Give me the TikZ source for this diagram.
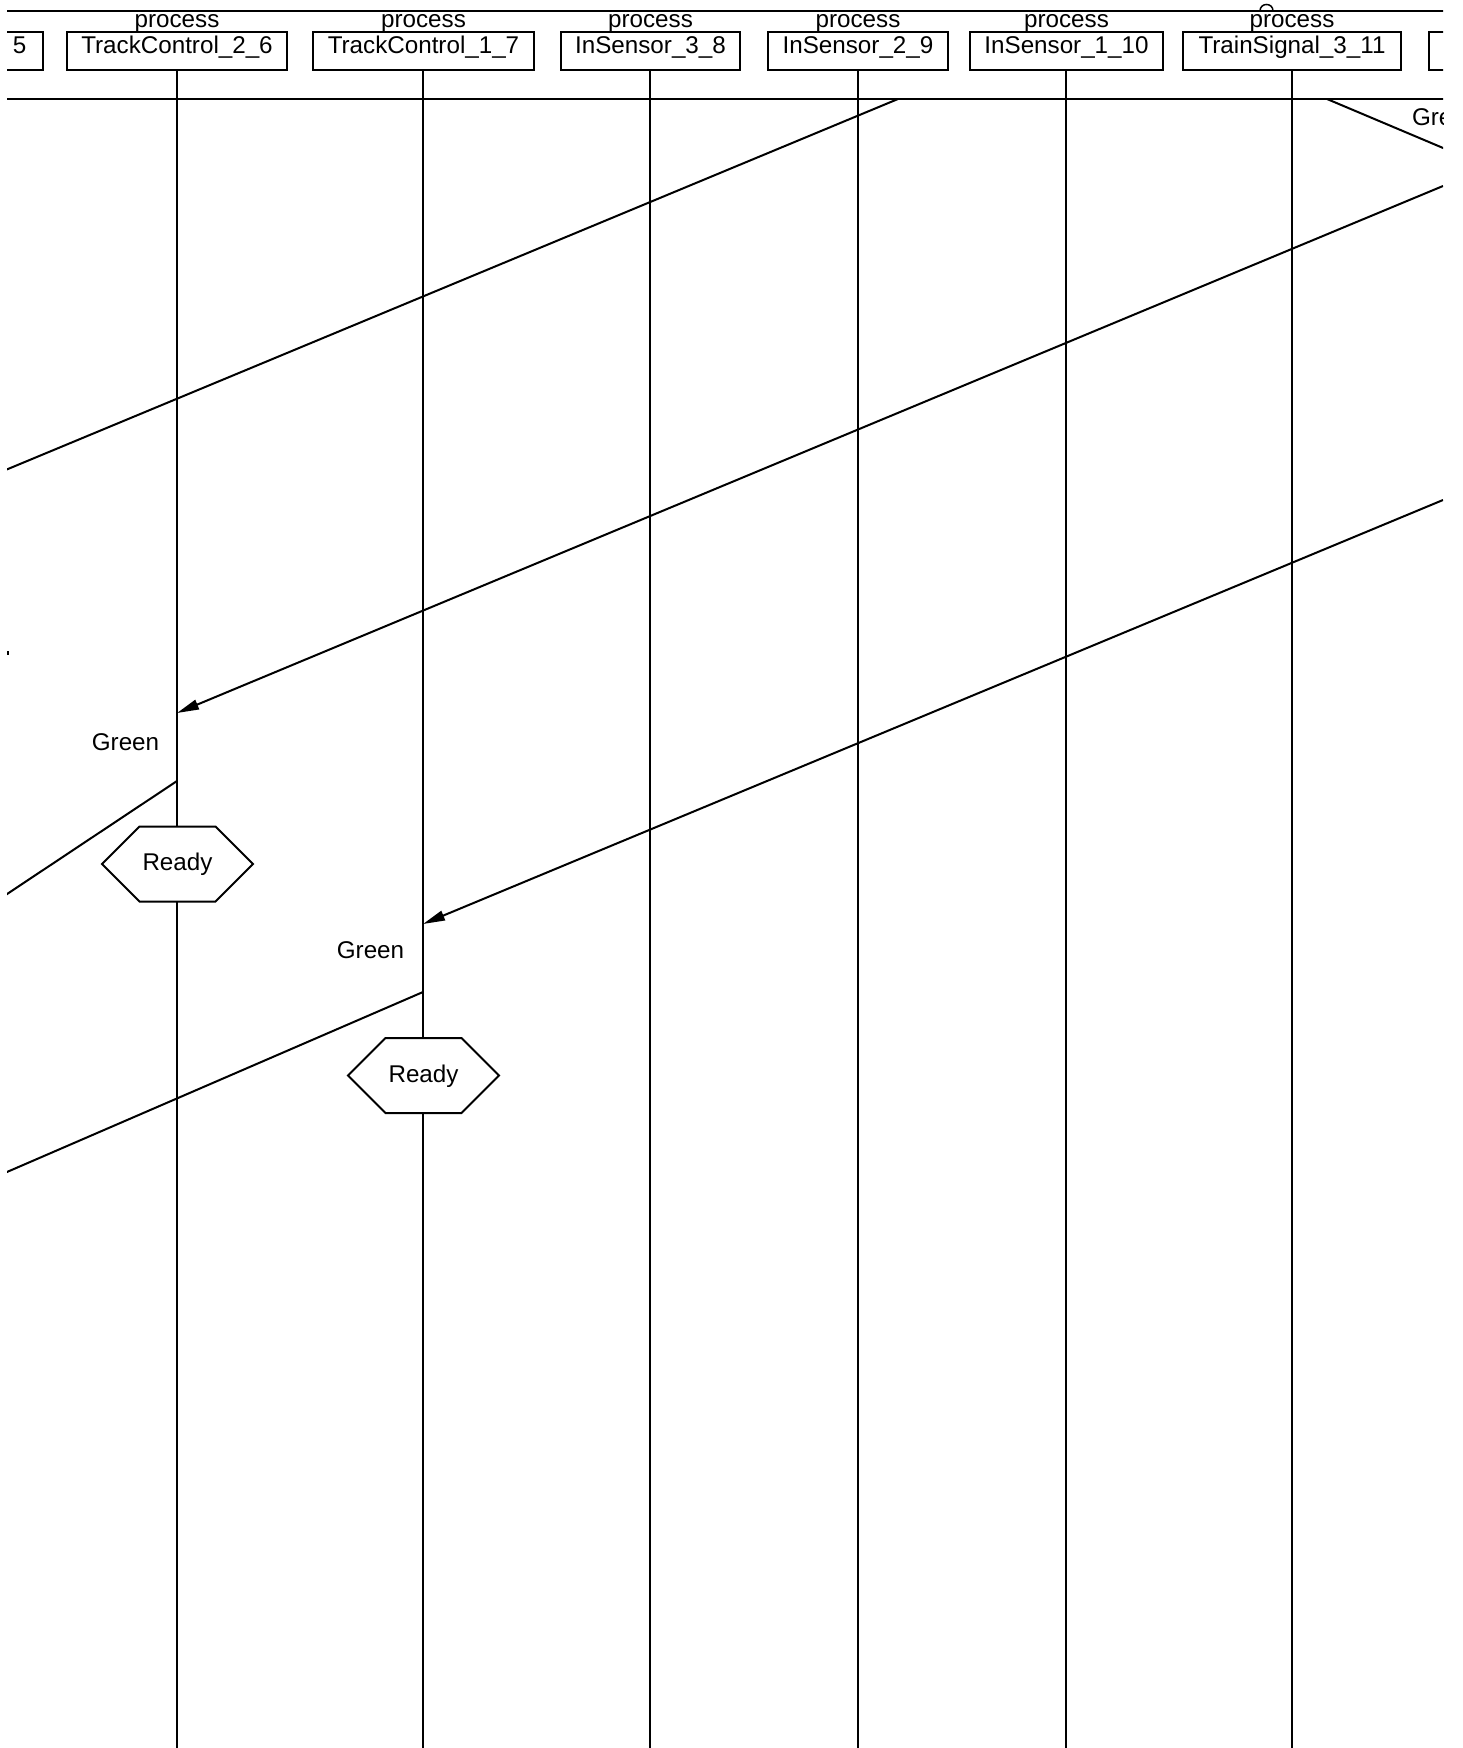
\documentclass[tikz,border=0pt]{standalone}
\usepackage{fontspec}
\setmainfont{Liberation Sans}
\usetikzlibrary{arrows.meta}
\begin{document}
\begin{tikzpicture}[x=1pt,y=-1pt, line width=2pt,
  every node/.style={font=\fontsize{24.2}{29}\selectfont},
  pbox/.style={draw, line width=2pt, inner xsep=0pt, inner ysep=1pt, text height=20pt, text depth=16pt, fill=white},
  plbl/.style={anchor=base, inner sep=0pt},
  msg/.style={line width=2pt},
  arr/.style={msg, -{Triangle[length=22pt,width=10pt]}},
  hexa/.style={draw, line width=2pt, fill=white},
  life/.style={line width=2pt}]

\useasboundingbox (0,0) rectangle (1463,1748);
\clip (7,0) rectangle (1443,1748);

% frame lines
\coordinate (ftl) at (0,10.7);
\coordinate (ftr) at (1463,10.7);
\coordinate (fbl) at (0,99);
\coordinate (fbr) at (1463,99);
\draw (ftl) -- (ftr);
\draw (fbl) -- (fbr);
\draw[line width=1.5pt] (1260,11) .. controls (1260,2.3) and (1273,2.3) .. (1273,11);

% process boxes
\node[pbox, minimum width=47] (p5) at (19.5,51) {5};
\node[pbox, minimum width=220] (tc26) at (177,51) {TrackControl\_2\_6};
\node[pbox, minimum width=221] (tc17) at (423.5,51) {TrackControl\_1\_7};
\node[pbox, minimum width=179] (is38) at (650.5,51) {InSensor\_3\_8};
\node[pbox, minimum width=180] (is29) at (858,51) {InSensor\_2\_9};
\node[pbox, minimum width=193] (is110) at (1066.5,51) {InSensor\_1\_10};
\node[pbox, minimum width=218] (ts311) at (1292,51) {TrainSignal\_3\_11};
\node[pbox, minimum width=102] (pnext) at (1480,51) {};

\node[plbl] (l26) at (177,27) {process};
\node[plbl] (l17) at (423.5,27) {process};
\node[plbl] (l38) at (650.5,27) {process};
\node[plbl] (l29) at (858,27) {process};
\node[plbl] (l110) at (1066.5,27) {process};
\node[plbl] (l311) at (1292,27) {process};

% lifelines
\coordinate (b26) at (177,1748);
\coordinate (b17) at (423,1748);
\coordinate (b38) at (650,1748);
\coordinate (b29) at (858,1748);
\coordinate (b110) at (1066,1748);
\coordinate (b311) at (1292,1748);
\draw[life] (tc26.south) -- (b26);
\draw[life] (tc17.south -| b17) -- (b17);
\draw[life] (is38.south -| b38) -- (b38);
\draw[life] (is29.south) -- (b29);
\draw[life] (is110.south -| b110) -- (b110);
\draw[life] (ts311.south) -- (b311);

% messages
\coordinate (m1s) at (898,99);
\coordinate (m1e) at (0,472.3);
\draw[msg] (m1s) -- (m1e);

\coordinate (m2s) at (1443,186);
\coordinate (m2e) at (177,713);
\draw[arr] (m2s) -- (m2e);

\coordinate (m3s) at (1443,500);
\coordinate (m3e) at (423,924);
\draw[arr] (m3s) -- (m3e);

\coordinate (m4s) at (177,781);
\coordinate (m4e) at (0,898.7);
\draw[msg] (m4s) -- (m4e);

\coordinate (m5s) at (423,992);
\coordinate (m5e) at (0,1175);
\draw[msg] (m5s) -- (m5e);

\coordinate (m6s) at (1327,99);
\coordinate (m6e) at (1463,156.4);
\draw[msg] (m6s) -- (m6e);

\fill (7,651) rectangle (9,655);

% labels
\node[plbl] (g1) at (125.5,750) {Green};
\node[plbl] (g2) at (370.5,958) {Green};
\node[plbl, anchor=base west] (g3) at (1411,125) {Green};

% ready states
\coordinate (h1) at (177.5,864);
\draw[hexa] (h1) ++(-75.5,0) -- ++(37.5,-37.5) -- ++(76,0) -- ++(37.5,37.5) -- ++(-37.5,37.5) -- ++(-76,0) -- cycle;
\node[plbl] (r1) at (177.5,870) {Ready};

\coordinate (h2) at (423.5,1075.5);
\draw[hexa] (h2) ++(-75.5,0) -- ++(37.5,-37.5) -- ++(76,0) -- ++(37.5,37.5) -- ++(-37.5,37.5) -- ++(-76,0) -- cycle;
\node[plbl] (r2) at (423.5,1082) {Ready};
\end{tikzpicture}
\end{document}
